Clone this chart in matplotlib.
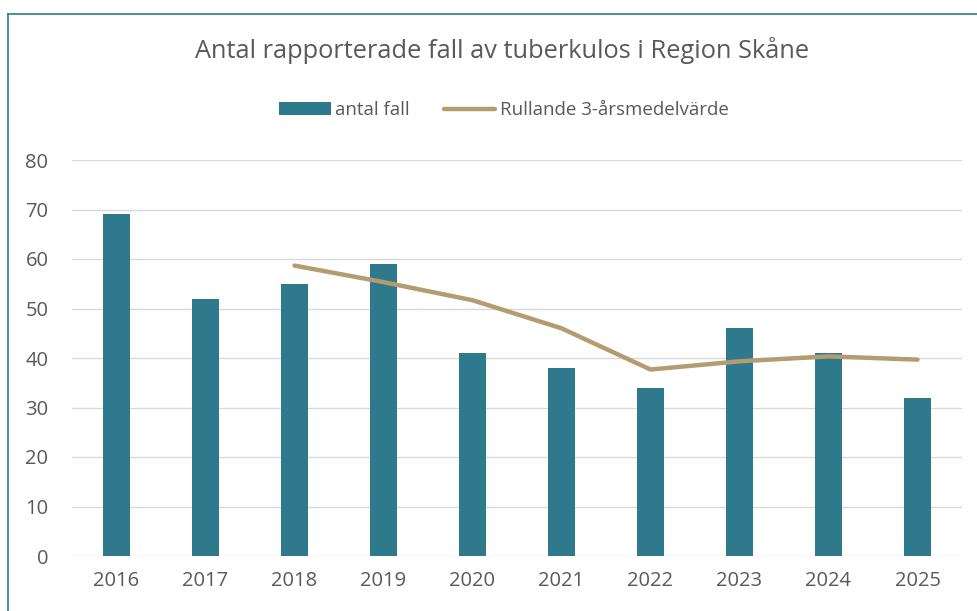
import matplotlib
matplotlib.use("Agg")
import matplotlib.pyplot as plt
from matplotlib.lines import Line2D
from matplotlib.patches import Patch

years = ["2016", "2017", "2018", "2019", "2020", "2021", "2022", "2023", "2024", "2025"]
cases = [69, 52, 55, 59, 41, 38, 34, 46, 41, 32]
avg_years = ["2018", "2019", "2020", "2021", "2022", "2023", "2024", "2025"]
rolling_avg = [58.67, 55.33, 51.67, 46.0, 37.67, 39.33, 40.33, 39.67]

bar_color = "#2E7A8C"
line_color = "#B39C70"
text_color = "#595959"
grid_color = "#D9D9D9"

plt.rcParams['font.family'] = ['Open Sans', 'DejaVu Sans']

fig = plt.figure(figsize=(9.78, 6.11), dpi=100)
W, H = 978, 611
ax = fig.add_axes([72 / W, 1 - 556 / H, (962 - 72) / W, (556 - 160) / H])

x = list(range(len(years)))
ax.bar(x, cases, width=0.3, color=bar_color, zorder=3)
xi = [years.index(y) for y in avg_years]
ax.plot(xi, rolling_avg, color=line_color, linewidth=3.2, solid_capstyle='round', zorder=4)

ax.set_xlim(-0.5, len(years) - 0.5)
ax.set_ylim(0, 80)
ax.set_yticks(range(0, 81, 10))
ax.set_xticks(x)
ax.set_xticklabels(years)
ax.grid(axis='y', color=grid_color, linewidth=1, zorder=0)
for s in ax.spines.values():
    s.set_visible(False)
ax.tick_params(axis='both', length=0, labelsize=14.5, colors=text_color)
ax.tick_params(axis='x', pad=11)
ax.tick_params(axis='y', pad=17)

fig.text(0.5 + 13 / W, 1 - 50 / H, "Antal rapporterade fall av tuberkulos i Region Skåne",
         ha='center', va='center', fontsize=18.3, color=text_color)

handles = [Patch(facecolor=bar_color, edgecolor='none'),
           Line2D([0], [0], color=line_color, linewidth=3.2, solid_capstyle='round')]
leg = fig.legend(handles, ["antal fall", "Rullande 3-årsmedelvärde"],
                 loc='center', bbox_to_anchor=(504 / W, 1 - 110 / H), ncol=2,
                 frameon=False, fontsize=13.5, handlelength=2.75, handleheight=0.63,
                 handletextpad=0.26, columnspacing=1.8, labelcolor=text_color)

# border lines (top and left)
fig.add_artist(Line2D([8 / W, 1.0], [1 - 14 / H, 1 - 14 / H], color=bar_color, linewidth=1.2,
                      transform=fig.transFigure))
fig.add_artist(Line2D([8 / W, 8 / W], [0, 1 - 14 / H], color=bar_color, linewidth=1.2,
                      transform=fig.transFigure))

fig.savefig("out.png", dpi=100)
